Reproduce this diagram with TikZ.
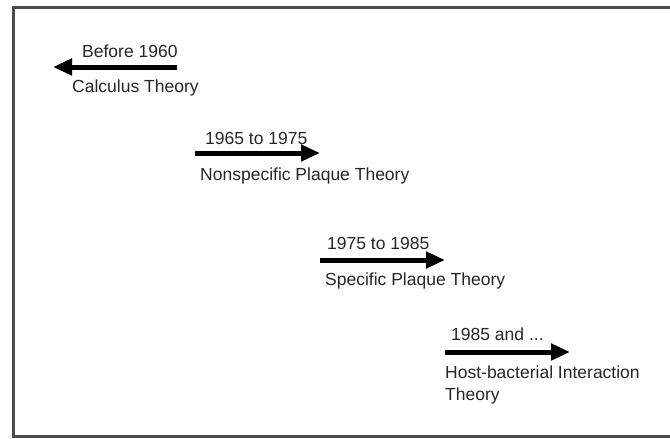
\documentclass[tikz,border=0pt]{standalone}
\usepackage{fontspec}
\setmainfont{Liberation Sans}
\usetikzlibrary{arrows.meta}
\tikzset{
    every picture/.style={font=\fontsize{17.5}{21.5}\selectfont},
    eraarrow/.style={-{Triangle[length=19pt, width=16pt]}, line width=5pt, draw=black},
    datelabel/.style={anchor=base west, inner sep=0pt, text=black!85},
    theorylabel/.style={anchor=base west, inner sep=0pt, align=left, text=black!85},
    frame/.style={draw=black!70, line width=2.5pt}
}
\begin{document}
\begin{tikzpicture}[x=1pt, y=-1pt]
    \useasboundingbox (0,0) rectangle (670,439);
    \draw[frame] (13.5,7.5) rectangle (690,436.5);
    % era arrows
    \coordinate (calcTail) at (177,67);
    \coordinate (calcTip) at (53,67);
    \coordinate (nonspTail) at (195,153);
    \coordinate (nonspTip) at (320,153);
    \coordinate (specTail) at (320,260);
    \coordinate (specTip) at (445,260);
    \coordinate (hostTail) at (445,352);
    \coordinate (hostTip) at (570,352);
    \draw[eraarrow] (calcTail) -- (calcTip);
    \draw[eraarrow] (nonspTail) -- (nonspTip);
    \draw[eraarrow] (specTail) -- (specTip);
    \draw[eraarrow] (hostTail) -- (hostTip);
    % labels
    \node[datelabel] (calcDate) at (82,57) {Before 1960};
    \node[theorylabel] (calcTheory) at (72,92) {Calculus Theory};
    \node[datelabel] (nonspDate) at (205,144) {1965 to 1975};
    \node[theorylabel] (nonspTheory) at (200,180) {Nonspecific Plaque Theory};
    \node[datelabel] (specDate) at (327,249) {1975 to 1985};
    \node[theorylabel] (specTheory) at (325,285) {Specific Plaque Theory};
    \node[datelabel] (hostDate) at (451,340) {1985 and ...};
    \node[theorylabel] (hostTheory) at (445,400) {Host-bacterial Interaction\\Theory};
\end{tikzpicture}
\end{document}
